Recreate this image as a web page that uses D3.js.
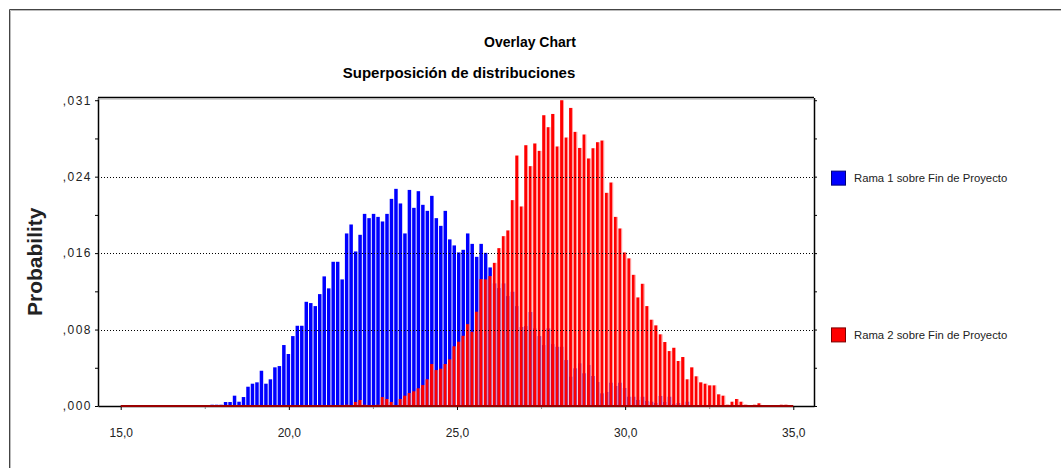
<!DOCTYPE html>
<html>
<head>
<meta charset="utf-8">
<script src="https://cdnjs.cloudflare.com/ajax/libs/d3/7.8.5/d3.min.js"></script>
<style>
  body { margin: 0; background: #fff; }
  svg text { font-family: "Liberation Sans", Arial, sans-serif; }
</style>
</head>
<body>
<div id="chart"></div>
<script>
// histogram bins shared by both forecasts (150 bins between 15 and 35)
var rangeMin = 15, rangeMax = 35, binCount = 150;
var blueFirstBin = 20;
var redFirstBin = 50;

// probabilities per bin
var blueProb = [
    0.00013, 0.00013, 0.00013, 0.00041, 0.00041, 0.00106, 0.00044, 0.00092, 0.00198, 0.00229,
    0.00243, 0.00362, 0.00229, 0.00274, 0.00397, 0.00410, 0.00626, 0.00534, 0.00718, 0.00824,
    0.00824, 0.01070, 0.01057, 0.01026, 0.01149, 0.01331, 0.01208, 0.01481, 0.01481, 0.01300,
    0.01772, 0.01864, 0.01587, 0.01758, 0.01973, 0.01929, 0.01973, 0.01942, 0.01895, 0.01973,
    0.02127, 0.02230, 0.02080, 0.01772, 0.02219, 0.02035, 0.02206, 0.02066, 0.02004, 0.02158,
    0.01929, 0.01850, 0.02004, 0.01711, 0.01649, 0.01577, 0.01604, 0.01772, 0.01665, 0.01532,
    0.01665, 0.01573, 0.01423, 0.01259, 0.01211, 0.01259, 0.01129, 0.01173, 0.01026, 0.00811,
    0.00821, 0.00965, 0.00797, 0.00718, 0.00626, 0.00797, 0.00636, 0.00608, 0.00608, 0.00472,
    0.00301, 0.00387, 0.00438, 0.00336, 0.00421, 0.00308, 0.00246, 0.00130, 0.00144, 0.00239,
    0.00205, 0.00239, 0.00185, 0.00095, 0.00095, 0.00062, 0.00095, 0.00051, 0.00044, 0.00031,
    0.00103, 0.00041, 0.00095, 0.00021, 0.00031, 0.00013, 0.00044
];

var redProb = [
    0.00013, 0, 0.00041, 0.00062, 0.00013, 0, 0, 0.00013, 0.00092, 0.00072,
    0.00041, 0.00007, 0.00072, 0.00106, 0.00133, 0.00151, 0.00182, 0.00215, 0.00274, 0.00431,
    0.00369, 0.00383, 0.00431, 0.00479, 0.00613, 0.00660, 0.00721, 0.00841, 0.00762, 0.00968,
    0.01303, 0.01300, 0.01334, 0.01470, 0.01621, 0.01744, 0.01803, 0.02114, 0.02572, 0.02049,
    0.02678, 0.02463, 0.02696, 0.02620, 0.02986, 0.02863, 0.02999, 0.02665, 0.03140, 0.02757,
    0.03061, 0.02815, 0.02650, 0.02788, 0.02542, 0.02647, 0.02709, 0.02726, 0.02189, 0.02295,
    0.01942, 0.01823, 0.01577, 0.01516, 0.01347, 0.01115, 0.01255, 0.01026, 0.00886, 0.00828,
    0.00736, 0.00657, 0.00564, 0.00598, 0.00462, 0.00503, 0.00274, 0.00397, 0.00305, 0.00243,
    0.00229, 0.00212, 0.00212, 0.00120, 0.00106, 0.00013, 0.00044, 0.00072, 0.00044, 0.00013,
    0, 0.00013, 0.00028, 0, 0, 0, 0, 0.00013, 0.00013
];

var seriesNames = ["Rama 1 sobre Fin de Proyecto", "Rama 2 sobre Fin de Proyecto"];
var xDomain = [14.325, 35.616];
var yMax = 0.03168;
var yTicks = [0, 0.00785, 0.0157, 0.02355, 0.0314];
var yTickLabels = [",000", ",008", ",016", ",024", ",031"];
var xTicks = [15, 20, 25, 30, 35];
var xTickLabels = ["15,0", "20,0", "25,0", "30,0", "35,0"];
var xMinorTicks = [17.5, 22.5, 27.5, 32.5];

var width = 1061, height = 468;
var plot = {left: 98, top: 97.5, right: 814, bottom: 406};

var svg = d3.select("#chart").append("svg")
    .attr("width", width)
    .attr("height", height);

svg.append("rect")
    .attr("width", width)
    .attr("height", height)
    .attr("fill", "#fff");

// outer frame (top + left only, rest is cropped)
svg.append("path")
    .attr("d", "M9.5," + height + "V9.5H" + width)
    .attr("fill", "none")
    .attr("stroke", "#444")
    .attr("stroke-width", 1);
svg.append("path")
    .attr("d", "M10.5," + height + "V10.5H" + width)
    .attr("fill", "none")
    .attr("stroke", "#bbb")
    .attr("stroke-width", 1);

var x = d3.scaleLinear()
    .domain(xDomain)
    .range([plot.left, plot.right]);

var y = d3.scaleLinear()
    .domain([0, yMax])
    .range([plot.bottom, plot.top]);

var binWidth = (rangeMax - rangeMin) / binCount;
var bw = x(rangeMin + binWidth) - x(rangeMin);

function binData(values, firstBin) {
    return values.map(function(v, i) {
        return {start: rangeMin + (firstBin + i) * binWidth, value: v};
    });
}

var blueData = binData(blueProb, blueFirstBin);
var redData = binData(redProb, redFirstBin);

// blue forecast behind
svg.append("g").selectAll("rect")
    .data(blueData.filter(function(d) { return d.value > 0; }))
    .enter().append("rect")
    .attr("x", function(d) { return x(d.start); })
    .attr("y", function(d) { return y(d.value); })
    .attr("width", bw * 0.78)
    .attr("height", function(d) { return y(0) - y(d.value); })
    .attr("fill", "#0000ff");

// red forecast on top, with a light edge that lets a bit of blue through
var red = svg.append("g").selectAll("g")
    .data(redData.filter(function(d) { return d.value > 0; }))
    .enter().append("g");

red.append("rect")
    .attr("x", function(d) { return x(d.start); })
    .attr("y", function(d) { return y(d.value); })
    .attr("width", bw * 0.64)
    .attr("height", function(d) { return y(0) - y(d.value); })
    .attr("fill", "#ff0000");

red.append("rect")
    .attr("x", function(d) { return x(d.start) + bw * 0.64; })
    .attr("y", function(d) { return y(d.value); })
    .attr("width", bw * 0.2)
    .attr("height", function(d) { return y(0) - y(d.value); })
    .attr("fill", "rgba(255,130,130,0.88)");

// gridlines
svg.append("g").selectAll("line")
    .data(yTicks.slice(1, 4))
    .enter().append("line")
    .attr("x1", plot.left)
    .attr("x2", plot.right)
    .attr("y1", function(d) { return Math.round(y(d)) + 0.5; })
    .attr("y2", function(d) { return Math.round(y(d)) + 0.5; })
    .attr("stroke", "#000")
    .attr("stroke-dasharray", "1,2");

var yMinor = d3.pairs(yTicks).map(function(p) { return (p[0] + p[1]) / 2; });

// axes
var xAxis = d3.axisBottom(x)
    .tickValues(xTicks)
    .tickSize(4)
    .tickSizeOuter(0)
    .tickPadding(18)
    .tickFormat(function(d, i) { return xTickLabels[i]; });

svg.append("g")
    .attr("class", "axis x-axis")
    .attr("transform", "translate(0," + plot.bottom + ")")
    .call(xAxis);

svg.append("g")
    .attr("class", "axis x-minor")
    .attr("transform", "translate(0," + plot.bottom + ")")
    .call(d3.axisBottom(x).tickValues(xMinorTicks).tickSize(3).tickFormat(""))
    .call(function(g) { g.select(".domain").remove(); })
    .selectAll("line").attr("stroke", "#888");

// red range marker along the base
svg.append("line")
    .attr("x1", x(rangeMin))
    .attr("x2", x(rangeMax))
    .attr("y1", y(0))
    .attr("y2", y(0))
    .attr("stroke", "#9a0000")
    .attr("stroke-width", 2);

var yAxis = d3.axisLeft(y)
    .tickValues(yTicks)
    .tickSize(3)
    .tickSizeOuter(0)
    .tickPadding(3)
    .tickFormat(function(d, i) { return yTickLabels[i]; });

svg.append("g")
    .attr("class", "axis y-axis")
    .attr("transform", "translate(" + plot.left + ",0)")
    .call(yAxis);

svg.append("g")
    .attr("transform", "translate(" + plot.left + ",0)")
    .call(d3.axisLeft(y).tickValues(yMinor).tickSize(3).tickFormat(""))
    .call(function(g) { g.select(".domain").remove(); });

svg.append("g")
    .attr("transform", "translate(" + plot.right + ",0)")
    .call(d3.axisRight(y).tickValues(yTicks.concat(yMinor)).tickSize(3).tickSizeOuter(0).tickFormat(""));

svg.selectAll(".axis text")
    .attr("font-size", "12px")
    .attr("fill", "#222");
svg.selectAll(".y-axis text")
    .attr("letter-spacing", "1.5px");
svg.selectAll(".domain").attr("stroke-width", 1.5);

// top border of plot area
svg.append("line")
    .attr("x1", plot.left)
    .attr("x2", plot.right)
    .attr("y1", plot.top)
    .attr("y2", plot.top)
    .attr("stroke", "#000")
    .attr("stroke-width", 1.5);
svg.append("line")
    .attr("x1", plot.left)
    .attr("x2", plot.right)
    .attr("y1", plot.top + 1.5)
    .attr("y2", plot.top + 1.5)
    .attr("stroke", "#aaa")
    .attr("stroke-width", 1);

// titles
svg.append("text")
    .attr("x", 530)
    .attr("y", 47)
    .attr("text-anchor", "middle")
    .attr("font-size", "14px")
    .attr("font-weight", "bold")
    .text("Overlay Chart");

svg.append("text")
    .attr("x", 459)
    .attr("y", 78)
    .attr("text-anchor", "middle")
    .attr("font-size", "15px")
    .attr("font-weight", "bold")
    .text("Superposición de distribuciones");

svg.append("text")
    .attr("transform", "translate(42," + ((plot.top + plot.bottom) / 2 + 10) + ") rotate(-90)")
    .attr("text-anchor", "middle")
    .attr("font-size", "21px")
    .attr("font-weight", "bold")
    .attr("fill", "#222")
    .text("Probability");

// legend
var legendColors = [["#0000ff", "#00007a"], ["#ff0000", "#7a0000"]];
var legendY = [y(0.0234), y(0.0073)];

var legend = svg.append("g").selectAll("g")
    .data(seriesNames)
    .enter().append("g")
    .attr("transform", function(d, i) { return "translate(831," + legendY[i] + ")"; });

legend.append("rect")
    .attr("x", 0.5)
    .attr("y", -7)
    .attr("width", 14)
    .attr("height", 14)
    .attr("fill", function(d, i) { return legendColors[i][0]; })
    .attr("stroke", function(d, i) { return legendColors[i][1]; });

legend.append("text")
    .attr("x", 23)
    .attr("y", 4)
    .attr("font-size", "11.3px")
    .attr("fill", "#222")
    .text(function(d) { return d; });
</script>
</body>
</html>
